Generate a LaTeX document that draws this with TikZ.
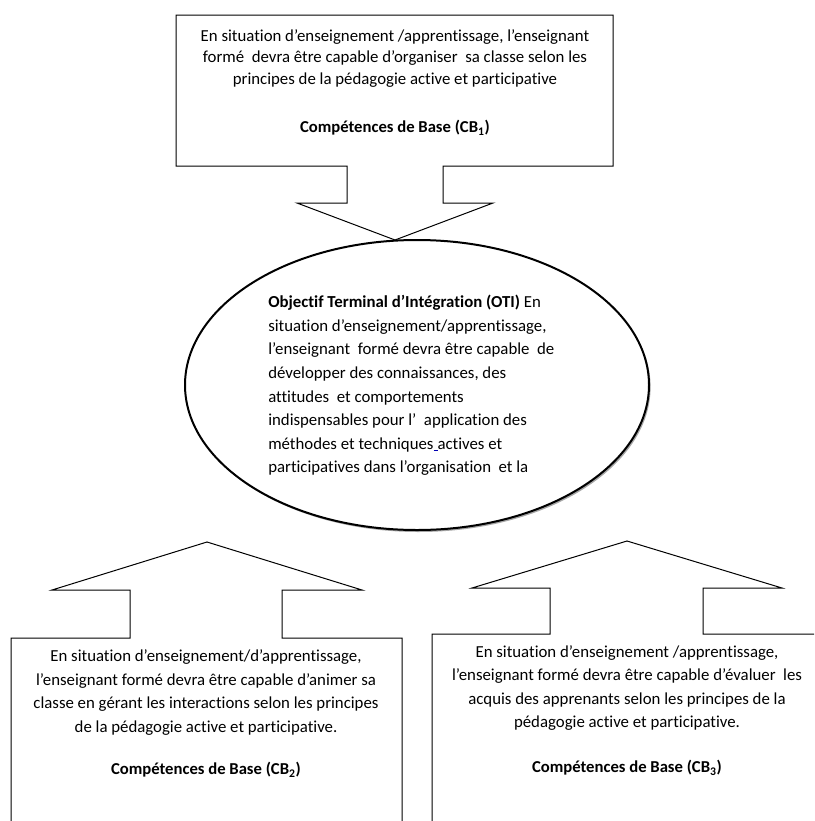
\documentclass[tikz,border=0pt]{standalone}
\usepackage{fontspec}
\setmainfont{Carlito}[Ligatures={TeX,NoCommon}]
\usetikzlibrary{shapes.geometric, shadows}

\tikzset{
  callout/.style={draw, line width=0.75pt, line join=miter},
  bodytext/.style={inner sep=0pt, align=center, font=\fontsize{12.6}{17.7}\selectfont},
  cblabel/.style={inner sep=0pt, font=\bfseries\fontsize{12.5}{14}\selectfont},
  otishape/.style={ellipse, draw, line width=1.5pt, fill=white, inner sep=0pt,
    minimum width=348pt, minimum height=217.5pt,
    drop shadow={shadow xshift=1.2pt, shadow yshift=-1.5pt, fill=gray!70, opacity=1}},
}

\begin{document}
\begin{tikzpicture}[x=0.75pt, y=-0.75pt]
        \useasboundingbox (0,0) rectangle (814,821);
        \clip (0,0) rectangle (814,821);

        \draw[callout] (176,15) -- (613,15) -- (613,166) -- (443,166) -- (443,203) -- (493,203)
            -- (395,240) -- (297,203) -- (347,203) -- (347,166) -- (176,166) -- cycle;
        \draw[callout] (11,850) -- (11,638) -- (130,638) -- (130,590) -- (52,590) -- (207,542)
            -- (362,590) -- (282,590) -- (282,638) -- (402,638) -- (402,850);
        \draw[callout] (432,850) -- (432,634) -- (550,634) -- (550,588) -- (472,588) -- (627,541)
            -- (782,588) -- (703,588) -- (703,634) -- (840,634);

        \node[otishape] (oti) at (417,385) {};

        \node[bodytext, font=\fontsize{12.6}{16.1}\selectfont] (cb1txt) at (395,58.5)
            {En situation d’enseignement /apprentissage, l’enseignant\\
             formé\ \ devra être capable d’organiser\ \ sa classe selon les\\
             principes de la pédagogie active et participative};
        \node[cblabel] (cb1lbl) at (395,128) {Compétences de Base (CB\textsubscript{1})};

        \node[bodytext, align=left, anchor=west] (otitxt) at (268,385.5)
            {\textbf{Objectif Terminal d’Intégration (OTI)} En\\
             situation\ d’enseignement/apprentissage,\\
             l’enseignant\ \ formé devra être capable\ \ de\\
             développer des connaissances, des\\
             attitudes\ \ et comportements\\
             indispensables pour l’\ \ application des\\
             méthodes et techniques{\color{blue!70!black}\rule[-1.2pt]{3pt}{0.5pt}}actives et\\
             participatives dans l’organisation\ \ et la};

        \node[bodytext] (cb2txt) at (206,692.5)
            {En situation d’enseignement/d’apprentissage,\\
             l’enseignant formé devra être capable d’animer sa\\
             classe en gérant les interactions selon les principes\\
             de la pédagogie active et participative.};
        \node[cblabel] (cb2lbl) at (206,770) {Compétences de Base (CB\textsubscript{2})};

        \node[bodytext] (cb3txt) at (627,688)
            {En situation d’enseignement /apprentissage,\\
             l’enseignant formé devra être capable d’évaluer\ \ les\\
             acquis des apprenants selon les principes de la\\
             pédagogie active et participative.};
        \node[cblabel] (cb3lbl) at (627,768) {Compétences de Base (CB\textsubscript{3})};
\end{tikzpicture}
\end{document}
